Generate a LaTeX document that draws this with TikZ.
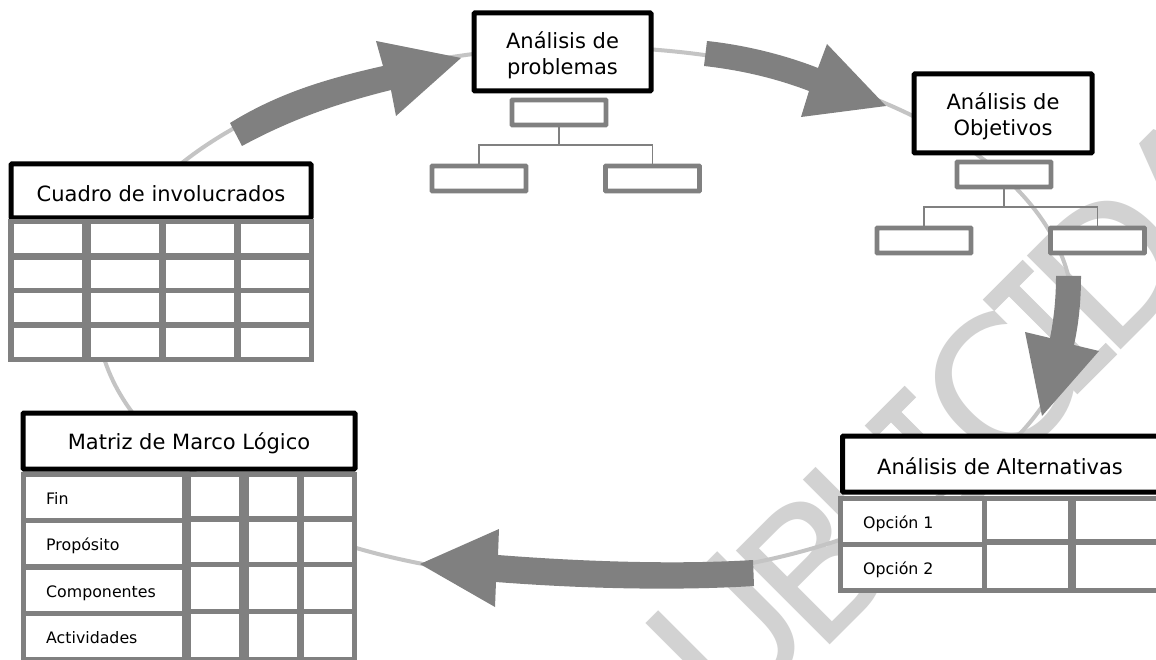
\documentclass[tikz,border=0pt]{standalone}
\usepackage{fontspec}
\setmainfont{DejaVu Sans}
\newfontfamily\wmmono[FakeStretch=0.75,FakeBold=0.6]{DejaVu Sans Mono}
\definecolor{wmgray}{HTML}{D2D2D2}
\definecolor{ringgray}{HTML}{C4C4C4}
\definecolor{midgray}{HTML}{808080}
\newcommand{\wmletter}[3]{\node[wmark] at (#2,#3) {#1};}
\newcommand{\wmi}[2]{\node[wmark] at (#1,#2) {\wmmono I};}
\newcommand{\cellbox}[4]{\draw[cellline] ({#1-2.6},{#2-2.6}) rectangle ({#3+2.6},{#4+2.6});}
\tikzset{
  wmark/.style={text=wmgray,font=\fontsize{182}{182}\selectfont,rotate=45,inner sep=0pt,anchor=center},
  headbox/.style={draw=black,line width=5pt,fill=white,rounded corners=1pt,inner sep=0pt},
  headtext/.style={inner sep=0pt,align=center,font=\fontsize{21}{26}\selectfont},
  cellline/.style={draw=midgray,line width=5.2pt,fill=white},
  smallbox/.style={draw=midgray,line width=4.8pt,fill=white,rounded corners=0.5pt,inner sep=0pt},
  branch/.style={draw=midgray,line width=1.5pt},
  ring/.style={draw=ringgray,line width=4pt},
  blockarrow/.style={fill=midgray,draw=none},
  celltext/.style={font=\fontsize{15.8}{18}\selectfont,anchor=base west,inner sep=0pt,text=black},
}
\begin{document}
\begin{tikzpicture}[x=1pt,y=-1pt]
\useasboundingbox (0,0) rectangle (1156,660);
\clip (0,0) rectangle (1156,660);
\fill[white] (0,0) rectangle (1156,660);
% watermark
\wmletter{P}{640}{735}
\wmletter{U}{730}{635}
\wmletter{B}{815}{566}
\wmletter{L}{873}{504}
\wmi{932}{453}
\wmletter{C}{997}{389}
\wmi{1050}{327}
\wmletter{D}{1111}{266}
\wmletter{A}{1194}{184}
% ring
\draw[ring] (585,313) ellipse [x radius=488,y radius=266];
% block arrows
\fill[blockarrow] (230,123) .. controls (280,92) and (330,78) .. (383,66) -- (376,41) -- (461,58) -- (396,116) -- (391,90) .. controls (335,104) and (290,120) .. (242,146) -- cycle;
\fill[blockarrow] (707,41) .. controls (745,45) and (785,55) .. (818,68) -- (827,44) -- (886,106) -- (801,117) -- (809,91) .. controls (775,78) and (740,70) .. (704,66) -- cycle;
\fill[blockarrow] (1056,276) .. controls (1056,298) and (1054,318) .. (1050,338) -- (1025,332) -- (1042,416) -- (1099,351) -- (1074,345) .. controls (1079,322) and (1081,300) .. (1081,276) -- cycle;
\fill[blockarrow] (753,560) .. controls (690,564) and (600,563) .. (498,555) -- (499,529) -- (420,564) -- (495,607) -- (496,582) .. controls (600,590) and (690,590) .. (754,586) -- cycle;
% head boxes
\node[headbox,minimum width=177pt,minimum height=78pt] (prob) at (562.5,52) {};
\node[headtext,yshift=-3pt] (probt) at (prob) {Análisis de\\problemas};
\node[headbox,minimum width=178pt,minimum height=79pt] (obj) at (1003,113.5) {};
\node[headtext,yshift=-3pt] (objt) at (obj) {Análisis de\\Objetivos};
\node[headbox,minimum width=300pt,minimum height=54pt] (cuadro) at (161,191) {};
\node[headtext,yshift=-3pt] (cuadrot) at (cuadro) {Cuadro de involucrados};
\node[headbox,minimum width=332pt,minimum height=56pt] (matriz) at (189,441) {};
\node[headtext,yshift=-2pt] (matrizt) at (matriz) {Matriz de Marco Lógico};
\node[headbox,minimum width=330pt,minimum height=56pt,anchor=west] (alt) at (840,464) {};
\node[headtext] (altt) at (1000,466) {Análisis de Alternativas};
% problem tree
\node[smallbox,minimum width=94pt,minimum height=25pt] (pt) at (559,112.5) {};
\node[smallbox,minimum width=94pt,minimum height=25pt] (pl) at (479,178.5) {};
\node[smallbox,minimum width=94pt,minimum height=25pt] (pr) at (652.5,178.5) {};
\coordinate (pj) at (559,145);
\draw[branch] (pt.south) -- (pj);
\draw[branch] (pl.north) |- (pj) -| (pr.north);
% objective tree
\node[smallbox,minimum width=94pt,minimum height=25pt] (ot) at (1004,174.5) {};
\node[smallbox,minimum width=94pt,minimum height=25pt] (ol) at (924,240.5) {};
\node[smallbox,minimum width=94pt,minimum height=25pt] (or) at (1097.5,240.5) {};
\coordinate (oj) at (1004,207);
\draw[branch] (ot.south) -- (oj);
\draw[branch] (ol.north) |- (oj) -| (or.north);
% cuadro table
\foreach \ya/\yb in {224/253,260/288,293/322,328/357}{
  \foreach \xa/\xb in {13.6/82,91/158.5,166/234,241/309}{
    \cellbox{\xa}{\ya}{\xb}{\yb}
  }
}
% matriz table
\foreach \ya/\yb in {477/518,523/564,570/611,616/657}{\cellbox{26}{\ya}{182}{\yb}}
\foreach \ya/\yb in {477/516,522/562,567/609,614/657}{
  \foreach \xa/\xb in {191/239,249/297,304/352}{
    \cellbox{\xa}{\ya}{\xb}{\yb}
  }
}
\node[celltext] (t1) at (46,504) {Fin};
\node[celltext] (t2) at (46,550) {Propósito};
\node[celltext] (t3) at (46,597) {Componentes};
\node[celltext] (t4) at (46,643) {Actividades};
% alternativas table
\cellbox{843}{501}{982}{542}
\cellbox{843}{547}{982}{588}
\cellbox{987}{501}{1068}{539}
\cellbox{987}{545}{1068}{588}
\cellbox{1076}{501}{1170}{539}
\cellbox{1076}{545}{1170}{588}
\node[celltext] (o1) at (863,528) {Opción 1};
\node[celltext] (o2) at (863,574) {Opción 2};
\end{tikzpicture}
\end{document}
